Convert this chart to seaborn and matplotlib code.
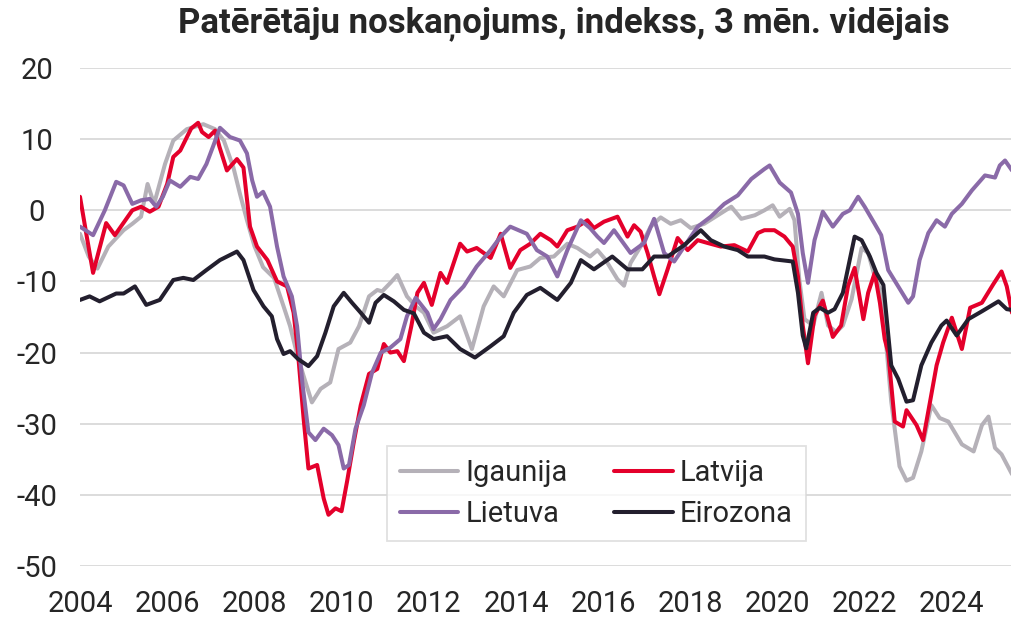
import numpy as np
import pandas as pd
import matplotlib.pyplot as plt
import seaborn as sns

# Igaunija (grey)
ee_t = [2004.0, 2004.2, 2004.4, 2004.65, 2005.0, 2005.2, 2005.4, 2005.55, 2005.7, 2005.95,
        2006.14, 2006.45, 2006.83, 2007.1, 2007.3, 2007.52, 2007.67, 2007.83, 2008.0, 2008.2,
        2008.45, 2008.67, 2008.82, 2008.97, 2009.13, 2009.32, 2009.52, 2009.74, 2009.93, 2010.2,
        2010.4, 2010.63, 2010.82, 2010.93, 2011.12, 2011.28, 2011.5, 2011.7, 2011.89, 2012.11,
        2012.42, 2012.72, 2012.99, 2013.26, 2013.49, 2013.72, 2014.03, 2014.33, 2014.56, 2014.87,
        2015.18, 2015.41, 2015.7, 2015.87, 2016.05, 2016.33, 2016.48, 2016.63, 2016.86, 2017.09,
        2017.32, 2017.55, 2017.78, 2018.01, 2018.32, 2018.63, 2018.94, 2019.17, 2019.48, 2019.7,
        2019.89, 2020.05, 2020.28, 2020.39, 2020.5, 2020.62, 2020.82, 2021.01, 2021.16, 2021.35,
        2021.5, 2021.7, 2021.93, 2022.08, 2022.23, 2022.39, 2022.61, 2022.8, 2022.96, 2023.11,
        2023.3, 2023.53, 2023.72, 2023.92, 2024.23, 2024.5, 2024.69, 2024.84, 2024.99, 2025.14,
        2025.38]
ee_v = [-3.3, -6.5, -8.2, -5.1, -2.8, -1.9, -0.9, 3.7, 0.9, 6.5,
        9.8, 11.4, 12.1, 11.4, 9.8, 6.0, 2.3, -1.4, -5.0, -8.0,
        -9.5, -13.5, -16.3, -20.0, -23.3, -27.0, -25.1, -24.2, -19.5, -18.6,
        -16.3, -12.1, -11.2, -11.4, -10.2, -9.1, -12.1, -13.5, -14.4, -17.2,
        -16.3, -14.9, -19.5, -13.5, -10.7, -12.1, -8.4, -7.9, -6.7, -6.5,
        -4.7, -5.3, -6.5, -5.6, -6.9, -9.7, -10.6, -7.4, -5.1, -2.3,
        -1.0, -1.9, -1.4, -2.5, -1.9, -0.7, 0.5, -1.2, -0.7, 0.0,
        0.7, -0.9, 0.2, -1.4, -9.7, -15.3, -16.2, -11.6, -16.2, -17.1,
        -16.2, -12.5, -5.3, -6.0, -9.3, -11.6, -26.9, -36.0, -38.0, -37.6,
        -33.9, -27.4, -29.2, -29.7, -32.9, -33.9, -30.2, -29.0, -33.4, -34.3,
        -37.1]

# Latvija (red)
lv_t = [2004.0, 2004.15, 2004.3, 2004.6, 2004.8, 2005.2, 2005.4, 2005.6, 2005.8, 2006.0,
        2006.14, 2006.3, 2006.55, 2006.71, 2006.8, 2006.95, 2007.1, 2007.2, 2007.37, 2007.6,
        2007.75, 2007.9, 2008.06, 2008.3, 2008.52, 2008.75, 2008.9, 2009.0, 2009.13, 2009.24,
        2009.44, 2009.59, 2009.7, 2009.86, 2010.0, 2010.13, 2010.28, 2010.44, 2010.63, 2010.82,
        2010.97, 2011.12, 2011.28, 2011.43, 2011.6, 2011.74, 2011.89, 2012.07, 2012.27, 2012.42,
        2012.72, 2012.88, 2013.1, 2013.42, 2013.65, 2013.87, 2014.1, 2014.33, 2014.56, 2014.8,
        2014.95, 2015.18, 2015.41, 2015.64, 2015.79, 2016.02, 2016.33, 2016.56, 2016.71, 2016.86,
        2017.02, 2017.17, 2017.29, 2017.48, 2017.71, 2017.94, 2018.17, 2018.4, 2018.7, 2019.01,
        2019.32, 2019.55, 2019.7, 2019.93, 2020.16, 2020.35, 2020.47, 2020.58, 2020.7, 2020.85,
        2021.04, 2021.27, 2021.46, 2021.62, 2021.77, 2021.97, 2022.08, 2022.23, 2022.35, 2022.46,
        2022.54, 2022.69, 2022.88, 2022.96, 2023.19, 2023.34, 2023.5, 2023.65, 2023.8, 2024.0,
        2024.23, 2024.42, 2024.69, 2024.95, 2025.14, 2025.26, 2025.38]
lv_v = [1.9, -3.5, -8.8, -1.8, -3.5, 0.0, 0.5, -0.2, 0.5, 3.7,
        7.5, 8.4, 11.5, 12.3, 11.0, 10.3, 11.2, 8.9, 5.6, 7.2,
        6.0, -2.3, -5.1, -7.0, -10.0, -10.7, -14.4, -20.0, -29.3, -36.3,
        -35.8, -40.5, -42.8, -41.9, -42.3, -38.0, -32.6, -27.4, -23.0, -22.3,
        -18.8, -20.0, -19.8, -21.2, -16.3, -11.6, -10.2, -13.3, -8.8, -10.2,
        -4.7, -5.8, -5.3, -6.7, -3.3, -8.1, -5.6, -4.7, -3.3, -4.2,
        -5.1, -2.8, -2.3, -1.4, -2.5, -1.6, -0.9, -3.7, -2.1, -3.0,
        -6.0, -9.3, -11.8, -8.3, -3.9, -5.6, -4.2, -4.6, -5.1, -4.9,
        -5.8, -3.2, -2.8, -2.8, -3.7, -5.1, -9.3, -16.2, -21.5, -14.8,
        -12.7, -17.8, -16.2, -10.6, -8.1, -15.3, -11.6, -8.8, -13.0, -18.1,
        -20.0, -29.7, -30.4, -28.1, -30.2, -32.3, -26.9, -21.8, -18.6, -15.1,
        -19.5, -13.7, -13.0, -10.4, -8.6, -10.7, -14.4]

# Lietuva (purple)
lt_t = [2004.0, 2004.3, 2004.57, 2004.83, 2005.0, 2005.2, 2005.4, 2005.6, 2005.75, 2005.9,
        2006.06, 2006.3, 2006.53, 2006.71, 2006.9, 2007.06, 2007.21, 2007.44, 2007.67, 2007.83,
        2007.95, 2008.06, 2008.2, 2008.36, 2008.52, 2008.67, 2008.86, 2008.98, 2009.1, 2009.24,
        2009.4, 2009.59, 2009.78, 2009.93, 2010.05, 2010.17, 2010.32, 2010.51, 2010.7, 2010.9,
        2011.12, 2011.35, 2011.5, 2011.7, 2011.97, 2012.11, 2012.27, 2012.5, 2012.8, 2013.1,
        2013.42, 2013.65, 2013.87, 2014.25, 2014.48, 2014.72, 2014.95, 2015.18, 2015.49, 2015.7,
        2015.87, 2016.02, 2016.25, 2016.63, 2016.94, 2017.17, 2017.4, 2017.63, 2017.86, 2018.17,
        2018.47, 2018.78, 2019.09, 2019.4, 2019.7, 2019.82, 2020.05, 2020.31, 2020.47, 2020.58,
        2020.7, 2020.85, 2021.04, 2021.27, 2021.5, 2021.66, 2021.85, 2022.0, 2022.23, 2022.38,
        2022.54, 2022.77, 2023.0, 2023.11, 2023.26, 2023.46, 2023.65, 2023.84, 2024.0, 2024.23,
        2024.46, 2024.76, 2024.99, 2025.1, 2025.22, 2025.38]
lt_v = [-2.3, -3.5, 0.0, 4.0, 3.5, 0.9, 1.4, 1.6, 0.5, 1.9,
        4.2, 3.3, 4.7, 4.4, 6.5, 9.1, 11.6, 10.3, 9.8, 8.0,
        4.2, 1.9, 2.6, 0.5, -5.1, -9.3, -12.1, -16.3, -24.2, -31.2,
        -32.3, -30.7, -31.6, -33.0, -36.3, -35.8, -30.7, -27.4, -22.8, -20.0,
        -19.3, -18.1, -14.9, -12.3, -14.4, -16.7, -15.3, -12.6, -10.7, -7.9,
        -5.6, -3.7, -2.3, -3.3, -5.6, -6.5, -9.3, -5.6, -1.4, -2.5,
        -3.7, -4.6, -2.8, -6.0, -4.6, -1.2, -6.0, -7.2, -5.1, -2.3,
        -0.9, 0.9, 2.1, 4.4, 5.8, 6.3, 3.9, 2.5, -0.5, -6.0,
        -10.2, -4.2, -0.2, -2.3, -0.5, 0.0, 1.9, 0.5, -1.9, -3.5,
        -8.4, -10.7, -13.0, -12.1, -7.0, -3.2, -1.4, -2.3, -0.5, 0.9,
        2.8, 4.9, 4.6, 6.3, 7.0, 5.6]

# Eirozona (black)
ez_t = [2004.0, 2004.22, 2004.45, 2004.83, 2005.0, 2005.26, 2005.52, 2005.83, 2006.14, 2006.37,
        2006.6, 2006.9, 2007.21, 2007.6, 2007.75, 2007.98, 2008.21, 2008.4, 2008.52, 2008.67,
        2008.82, 2009.0, 2009.24, 2009.44, 2009.63, 2009.82, 2010.05, 2010.24, 2010.44, 2010.63,
        2010.78, 2010.97, 2011.2, 2011.43, 2011.66, 2011.89, 2012.11, 2012.42, 2012.72, 2013.06,
        2013.42, 2013.72, 2013.95, 2014.25, 2014.56, 2014.95, 2015.26, 2015.49, 2015.79, 2016.21,
        2016.56, 2016.9, 2017.17, 2017.48, 2017.86, 2018.24, 2018.47, 2018.78, 2019.09, 2019.32,
        2019.7, 2019.93, 2020.35, 2020.47, 2020.58, 2020.66, 2020.82, 2020.97, 2021.16, 2021.31,
        2021.5, 2021.66, 2021.77, 2021.93, 2022.12, 2022.27, 2022.43, 2022.61, 2022.77, 2022.96,
        2023.11, 2023.3, 2023.53, 2023.76, 2023.88, 2024.11, 2024.38, 2024.69, 2025.07, 2025.26,
        2025.38]
ez_v = [-12.6, -12.1, -12.8, -11.7, -11.7, -10.7, -13.3, -12.6, -9.8, -9.5,
        -9.8, -8.4, -7.0, -5.8, -7.0, -11.2, -13.5, -14.9, -18.1, -20.2,
        -19.8, -20.9, -21.9, -20.5, -17.2, -13.5, -11.6, -13.0, -14.4, -15.8,
        -13.0, -11.9, -12.8, -14.0, -14.5, -17.2, -18.1, -17.7, -19.5, -20.7,
        -19.1, -17.7, -14.4, -11.9, -10.9, -12.6, -10.2, -7.0, -8.3, -6.5,
        -8.3, -8.3, -6.5, -6.5, -4.9, -2.8, -4.2, -5.1, -5.6, -6.5,
        -6.5, -6.9, -7.2, -11.6, -17.6, -19.4, -14.4, -13.7, -14.4, -13.9,
        -11.6, -6.9, -3.7, -4.2, -6.5, -8.8, -10.5, -21.8, -23.7, -26.9,
        -26.7, -21.8, -18.6, -16.2, -15.5, -17.6, -15.3, -14.2, -12.8, -13.9,
        -14.0]

names = ['Igaunija', 'Latvija', 'Lietuva', 'Eirozona']
colors = {'Igaunija': '#b5b1b8', 'Latvija': '#e4002b', 'Lietuva': '#8a6aa8', 'Eirozona': '#231f2e'}
year_ticks = list(range(2004, 2025, 2))
y_ticks = list(range(-50, 21, 10))

frames = []
for name, t, v in zip(names, [ee_t, lv_t, lt_t, ez_t], [ee_v, lv_v, lt_v, ez_v]):
    frames.append(pd.DataFrame({'gads': t, 'vertiba': v, 'valsts': name}))
df = pd.concat(frames, ignore_index=True)

sns.set_theme(style='white')
plt.rcParams['font.family'] = ['Roboto', 'DejaVu Sans']

fig = plt.figure(figsize=(10.12, 6.2), dpi=100)
ax = fig.add_axes([80 / 1012, 54 / 620, 932 / 1012, 498 / 620])

sns.lineplot(data=df, x='gads', y='vertiba', hue='valsts', hue_order=names,
             palette=colors, estimator=None, sort=True, linewidth=2.9, ax=ax, legend=False)

ax.set_xlim(2004, 2025.38)
ax.set_ylim(-50, 20)
ax.set_xticks(year_ticks)
ax.set_yticks(y_ticks)
ax.set_xticklabels([str(y) for y in year_ticks], fontsize=21)
ax.set_yticklabels([str(y) for y in y_ticks], fontsize=21, ha='center')
ax.tick_params(axis='y', length=0, pad=31)
ax.tick_params(axis='x', length=0, pad=17)
ax.grid(axis='y', color='#d9d9d9', linewidth=1.3)
ax.grid(axis='x', visible=False)
ax.set_xlabel('')
ax.set_ylabel('')
for s in ax.spines.values():
    s.set_visible(False)

# legend: row 1 Igaunija, Latvija; row 2 Lietuva, Eirozona
order = ['Igaunija', 'Lietuva', 'Latvija', 'Eirozona']
handles = [plt.Line2D([], [], color=colors[n], linewidth=2.9) for n in order]
leg = ax.legend(handles, order, ncol=2, loc='lower left', bbox_to_anchor=(0.329, 0.05),
                fontsize=21, frameon=True, fancybox=False, handlelength=2.0,
                handletextpad=0.25, columnspacing=1.6, borderpad=0.45, labelspacing=0.45,
                borderaxespad=0)
leg.get_frame().set_edgecolor('#d9d9d9')
leg.get_frame().set_linewidth(1.3)

fig.text(564 / 1012, 1 - 32 / 620, 'Patērētāju noskaņojums, indekss, 3 mēn. vidējais',
         ha='center', va='baseline', fontsize=25, fontweight='bold')

fig.savefig('out.png', dpi=100)
